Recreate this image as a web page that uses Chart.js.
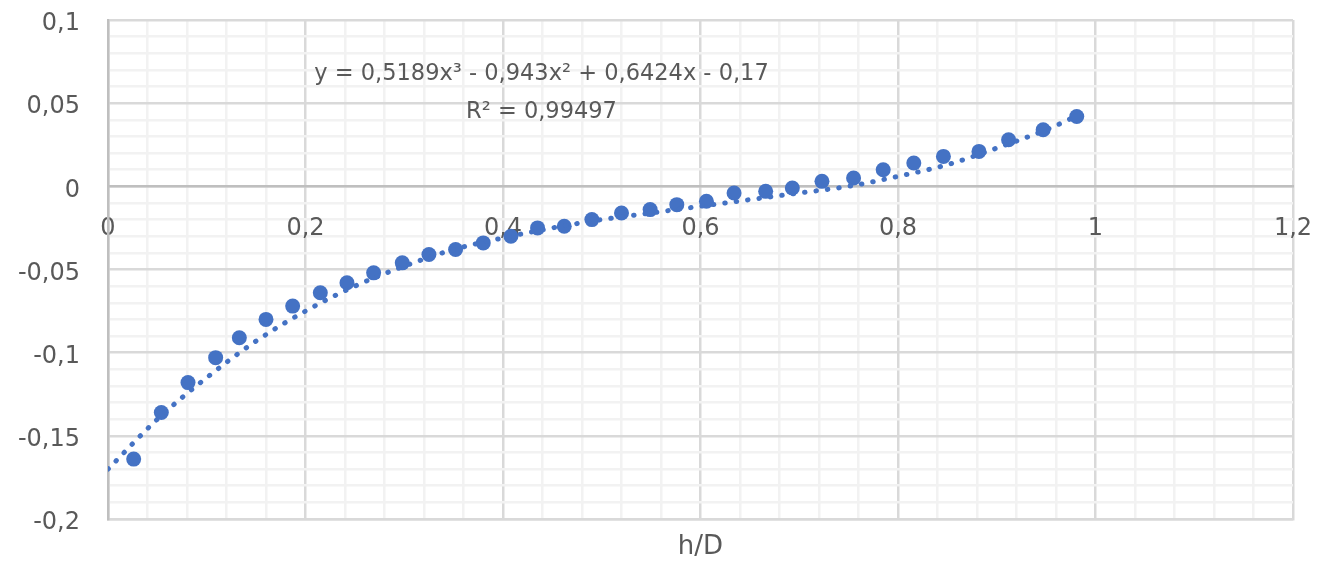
<!DOCTYPE html>
<html lang="ru">
<head>
  <meta charset="UTF-8">
  <title>h/D</title>
  <script src="https://cdn.jsdelivr.net/npm/chart.js"></script>
  <style>
    body { margin: 0; background: #fff; }
    .wrap { width: 1323px; height: 563px; position: relative; }
  </style>
</head>
<body>
  <div class="wrap"><canvas id="chart"></canvas></div>

  <script>
    // measured points (h/D, value)
    const hD = [0.026, 0.054, 0.081, 0.109, 0.133, 0.160, 0.187, 0.215, 0.242, 0.269, 0.298, 0.325,
                0.352, 0.380, 0.408, 0.435, 0.462, 0.490, 0.520, 0.549, 0.576, 0.606, 0.634, 0.666,
                0.693, 0.723, 0.755, 0.785, 0.816, 0.846, 0.882, 0.912, 0.947, 0.981];
    const values = [-0.164, -0.136, -0.118, -0.103, -0.091, -0.080, -0.072, -0.064, -0.058, -0.052, -0.046, -0.041,
                    -0.038, -0.034, -0.030, -0.025, -0.024, -0.020, -0.016, -0.014, -0.011, -0.009, -0.004, -0.003,
                    -0.001, 0.003, 0.005, 0.010, 0.014, 0.018, 0.021, 0.028, 0.034, 0.042];

    // dotted trend line
    const trendX = [0, 0.05, 0.1, 0.15, 0.2, 0.25, 0.3, 0.35, 0.4, 0.45, 0.5, 0.55, 0.6, 0.65, 0.7,
                    0.75, 0.8, 0.85, 0.9, 0.95, 0.98];
    const trendY = [-0.170, -0.140, -0.115, -0.093, -0.075, -0.060, -0.048, -0.038, -0.031, -0.025, -0.020,
                    -0.016, -0.012, -0.008, -0.004, 0.000, 0.006, 0.013, 0.023, 0.034, 0.042];

    const equationText = ['y = 0,5189x³ - 0,943x² + 0,6424x - 0,17', 'R² = 0,99497'];

    const xMajorTicks = [0, 0.2, 0.4, 0.6, 0.8, 1, 1.2];
    const xTickLabels = ['0', '0,2', '0,4', '0,6', '0,8', '1', '1,2'];
    const yMajorTicks = [-0.2, -0.15, -0.1, -0.05, 0, 0.05, 0.1];
    const yTickLabels = ['-0,2', '-0,15', '-0,1', '-0,05', '0', '0,05', '0,1'];

    const MAJOR = '#D9D9D9', MINOR = '#F2F2F2', AXIS = '#BFBFBF', TEXT = '#595959';

    function gridValues(min, max, step) {
      const out = [];
      const n = Math.round((max - min) / step);
      for (let i = 0; i <= n; i++) out.push({ value: +(min + i * step).toFixed(4) });
      return out;
    }
    function majorIndex(list, v) {
      return list.findIndex(m => Math.abs(m - v) < 1e-6);
    }
    // labels may overflow the plot, don't let them shrink it
    function noPad(s) {
      s.paddingTop = s.paddingBottom = s.paddingLeft = s.paddingRight = 0;
    }

    Chart.defaults.font.family = "'DejaVu Sans', sans-serif";
    Chart.defaults.color = TEXT;

    // trend line equation label
    const equationPlugin = {
      id: 'equation',
      afterDatasetsDraw(chart) {
        const { ctx, scales } = chart;
        const cx = scales.x.getPixelForValue(0.439);
        ctx.save();
        ctx.fillStyle = TEXT;
        ctx.font = "22.5px 'DejaVu Sans'";
        ctx.textAlign = 'center';
        ctx.textBaseline = 'middle';
        ctx.fillText(equationText[0], cx, scales.y.getPixelForValue(0.0675));
        ctx.fillText(equationText[1], cx, scales.y.getPixelForValue(0.0443));
        ctx.restore();
      }
    };

    new Chart(document.getElementById('chart'), {
      type: 'scatter',
      data: {
        datasets: [{
          type: 'line',
          data: trendX.map((x, i) => ({ x, y: trendY[i] })),
          borderColor: '#4472C4',
          borderWidth: 5,
          borderDash: [0.5, 11],
          borderCapStyle: 'round',
          cubicInterpolationMode: 'monotone',
          pointRadius: 0,
          fill: false
        }, {
          data: hD.map((x, i) => ({ x, y: values[i] })),
          backgroundColor: '#4472C4',
          borderWidth: 0,
          pointRadius: 7.5
        }]
      },
      options: {
        responsive: true,
        maintainAspectRatio: false,
        animation: false,
        layout: { padding: { top: 20, right: 30, left: 0, bottom: 0 } },
        plugins: { legend: { display: false }, tooltip: { enabled: false } },
        scales: {
          x: {
            type: 'linear', position: 'bottom', min: 0, max: 1.2,
            afterBuildTicks: s => { s.ticks = gridValues(0, 1.2, 0.04); },
            afterFit: s => { s.height = 44; noPad(s); },
            ticks: { display: false, autoSkip: false },
            grid: {
              drawTicks: false, lineWidth: 2.5,
              color: c => majorIndex(xMajorTicks, c.tick.value) >= 0 ? MAJOR : MINOR
            },
            border: { color: MAJOR, width: 2.5 },
            title: { display: true, text: 'h/D', font: { size: 26 }, color: TEXT, padding: { top: 0, bottom: 0 } }
          },
          x2: {
            type: 'linear', axis: 'x', position: { y: 0 }, min: 0, max: 1.2,
            afterBuildTicks: s => { s.ticks = xMajorTicks.map(v => ({ value: v })); },
            afterFit: noPad,
            ticks: {
              autoSkip: false, maxRotation: 0, padding: 28, font: { size: 24 }, color: TEXT,
              callback: v => { const i = majorIndex(xMajorTicks, v); return i < 0 ? '' : xTickLabels[i]; }
            },
            grid: { display: false, drawTicks: false },
            border: { color: AXIS, width: 2.5 }
          },
          y: {
            type: 'linear', position: 'left', min: -0.2, max: 0.1,
            afterBuildTicks: s => { s.ticks = gridValues(-0.2, 0.1, 0.01); },
            afterFit: s => { s.width = 108; noPad(s); },
            ticks: {
              // empty first line + 8px line height drops the label 4px below its grid line
              autoSkip: false, padding: 28, font: { size: 24, lineHeight: '8px' }, color: TEXT,
              callback: v => { const i = majorIndex(yMajorTicks, v); return i < 0 ? '' : ['', yTickLabels[i]]; }
            },
            grid: {
              drawTicks: false, lineWidth: 2.5,
              color: c => majorIndex(yMajorTicks, c.tick.value) >= 0 ? MAJOR : MINOR
            },
            border: { color: AXIS, width: 2.5 }
          }
        }
      },
      plugins: [equationPlugin]
    });
  </script>
</body>
</html>
